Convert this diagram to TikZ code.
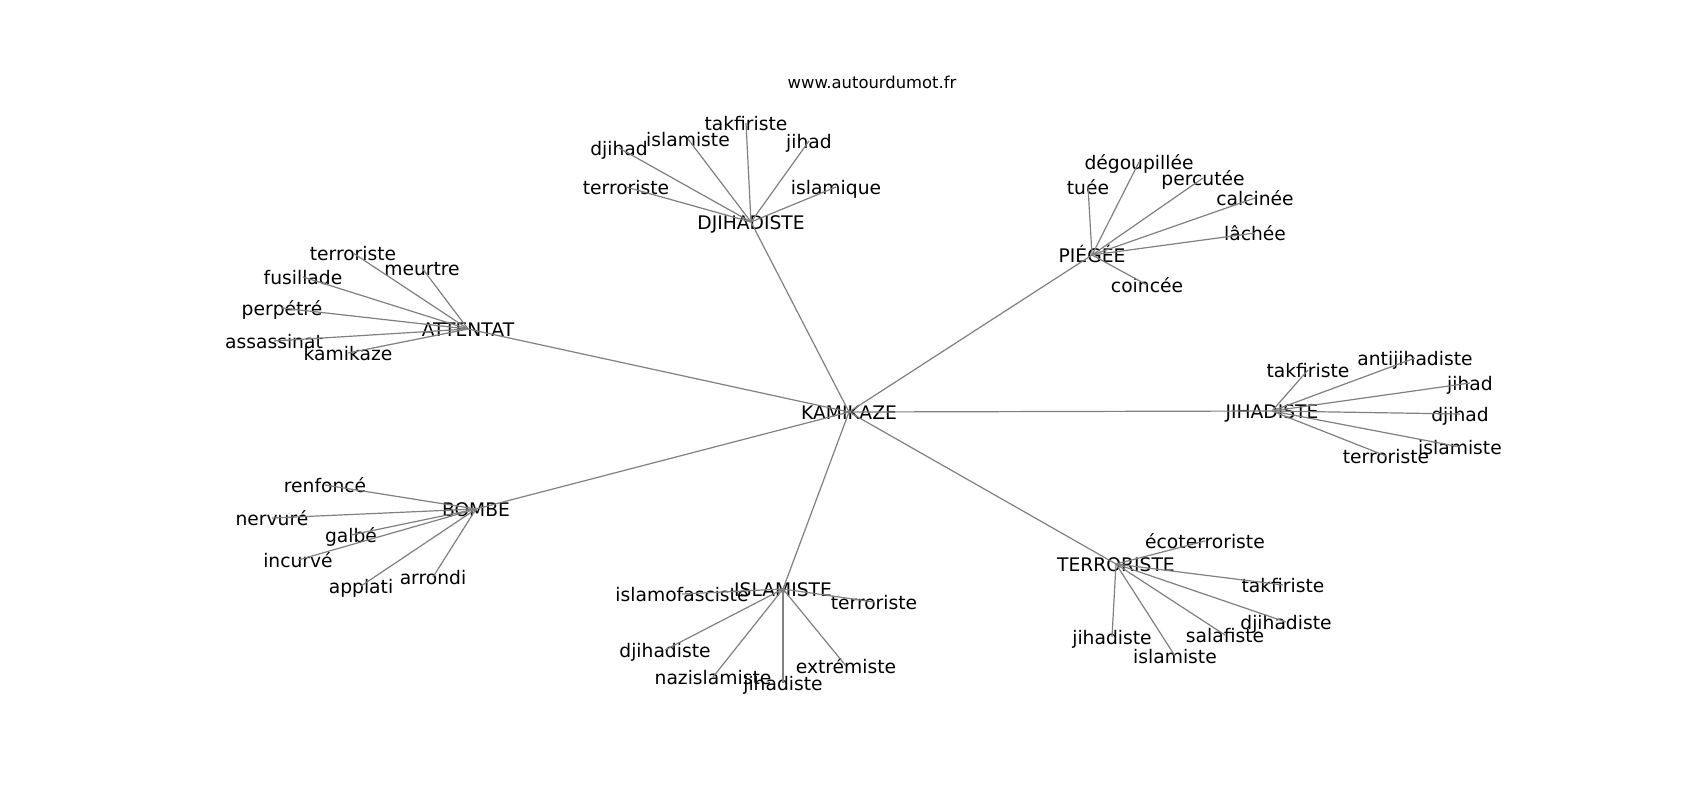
\documentclass[tikz,border=0pt]{standalone}
\usepackage{fontspec}
\setmainfont{DejaVu Sans}
\usepackage{tikz}
\usetikzlibrary{positioning}

\begin{document}
\begin{tikzpicture}[x=1pt,y=-1pt,
                hubnode/.style={inner sep=0pt, text height=15pt, text depth=1pt, font=\fontsize{18.7}{22}\selectfont},
                leafnode/.style={inner sep=0pt, text height=15pt, text depth=1pt, font=\fontsize{18.7}{22}\selectfont},
                titlenode/.style={inner sep=0pt, text height=13pt, text depth=2pt, font=\fontsize{16.4}{19}\selectfont},
                edgeline/.style={draw=black!50, line width=1.2pt},
            ]
            \useasboundingbox[fill=white] (0,0) rectangle (1700,800);
            \node[titlenode]       (site)          at (872,83)   {www.autourdumot.fr};

            %Nodes
            \node[hubnode]       (kamikaze)        at (849,412)  {KAMIKAZE};
            \node[hubnode]       (attentat)        at (468,329)  {ATTENTAT};
            \node[hubnode]       (djihadiste)      at (751,222)  {DJIHADISTE};
            \node[hubnode]       (piegee)          at (1092,255) {PIÉGÉE};
            \node[hubnode]       (jihadiste)       at (1272,411) {JIHADISTE};
            \node[hubnode]       (terroriste)      at (1116,564) {TERRORISTE};
            \node[hubnode]       (islamiste)       at (783,589)  {ISLAMISTE};
            \node[hubnode]       (bombe)           at (476,509)  {BOMBE};

            \node[leafnode]      (attterroriste)   at (353,253)  {terroriste};
            \node[leafnode]      (attmeurtre)      at (422,268)  {meurtre};
            \node[leafnode]      (attfusillade)    at (303,277)  {fusillade};
            \node[leafnode]      (attperpetre)     at (282,308)  {perpétré};
            \node[leafnode]      (attassassinat)   at (274,341)  {assassinat};
            \node[leafnode]      (attkamikaze)     at (348,353)  {kamikaze};

            \node[leafnode]      (djitakfiriste)   at (746,123)  {takfiriste};
            \node[leafnode]      (djiislamiste)    at (688,139)  {islamiste};
            \node[leafnode]      (djidjihad)       at (619,148)  {djihad};
            \node[leafnode]      (djijihad)        at (809,141)  {jihad};
            \node[leafnode]      (djiterroriste)   at (626,187)  {terroriste};
            \node[leafnode]      (djiislamique)    at (836,187)  {islamique};

            \node[leafnode]      (piedegoupillee)  at (1139,162) {dégoupillée};
            \node[leafnode]      (pietuee)         at (1088,187) {tuée};
            \node[leafnode]      (piepercutee)     at (1203,178) {percutée};
            \node[leafnode]      (piecalcinee)     at (1255,198) {calcinée};
            \node[leafnode]      (pielachee)       at (1255,233) {lâchée};
            \node[leafnode]      (piecoincee)      at (1147,285) {coincée};

            \node[leafnode]      (jihtakfiriste)   at (1308,370) {takfiriste};
            \node[leafnode]      (jihantijihadiste) at (1415,358) {antijihadiste};
            \node[leafnode]      (jihjihad)        at (1470,383) {jihad};
            \node[leafnode]      (jihdjihad)       at (1460,414) {djihad};
            \node[leafnode]      (jihislamiste)    at (1460,447) {islamiste};
            \node[leafnode]      (jihterroriste)   at (1386,456) {terroriste};

            \node[leafnode]      (terecoterroriste) at (1205,541) {écoterroriste};
            \node[leafnode]      (tertakfiriste)   at (1283,585) {takfiriste};
            \node[leafnode]      (terdjihadiste)   at (1286,622) {djihadiste};
            \node[leafnode]      (tersalafiste)    at (1225,635) {salafiste};
            \node[leafnode]      (terislamiste)    at (1175,656) {islamiste};
            \node[leafnode]      (terjihadiste)    at (1112,637) {jihadiste};

            \node[leafnode]      (islislamofasciste) at (682,594) {islamofasciste};
            \node[leafnode]      (islterroriste)   at (874,602)  {terroriste};
            \node[leafnode]      (isldjihadiste)   at (665,650)  {djihadiste};
            \node[leafnode]      (islnazislamiste) at (713,677)  {nazislamiste};
            \node[leafnode]      (isljihadiste)    at (783,683)  {jihadiste};
            \node[leafnode]      (islextremiste)   at (846,666)  {extrémiste};

            \node[leafnode]      (bomrenfonce)     at (325,485)  {renfoncé};
            \node[leafnode]      (bomnervure)      at (272,518)  {nervuré};
            \node[leafnode]      (bomgalbe)        at (351,535)  {galbé};
            \node[leafnode]      (bomincurve)      at (298,560)  {incurvé};
            \node[leafnode]      (bomapplati)      at (361,586)  {applati};
            \node[leafnode]      (bomarrondi)      at (433,577)  {arrondi};

            %Lines
            \foreach \hub in {attentat,djihadiste,piegee,jihadiste,terroriste,islamiste,bombe}
                \draw[edgeline] (kamikaze.center) -- (\hub.center);
            \foreach \leaf in {attterroriste,attmeurtre,attfusillade,attperpetre,attassassinat,attkamikaze}
                \draw[edgeline] (attentat.center) -- (\leaf.center);
            \foreach \leaf in {djitakfiriste,djiislamiste,djidjihad,djijihad,djiterroriste,djiislamique}
                \draw[edgeline] (djihadiste.center) -- (\leaf.center);
            \foreach \leaf in {piedegoupillee,pietuee,piepercutee,piecalcinee,pielachee,piecoincee}
                \draw[edgeline] (piegee.center) -- (\leaf.center);
            \foreach \leaf in {jihtakfiriste,jihantijihadiste,jihjihad,jihdjihad,jihislamiste,jihterroriste}
                \draw[edgeline] (jihadiste.center) -- (\leaf.center);
            \foreach \leaf in {terecoterroriste,tertakfiriste,terdjihadiste,tersalafiste,terislamiste,terjihadiste}
                \draw[edgeline] (terroriste.center) -- (\leaf.center);
            \foreach \leaf in {islislamofasciste,islterroriste,isldjihadiste,islnazislamiste,isljihadiste,islextremiste}
                \draw[edgeline] (islamiste.center) -- (\leaf.center);
            \foreach \leaf in {bomrenfonce,bomnervure,bomgalbe,bomincurve,bomapplati,bomarrondi}
                \draw[edgeline] (bombe.center) -- (\leaf.center);
        \end{tikzpicture}
\end{document}
